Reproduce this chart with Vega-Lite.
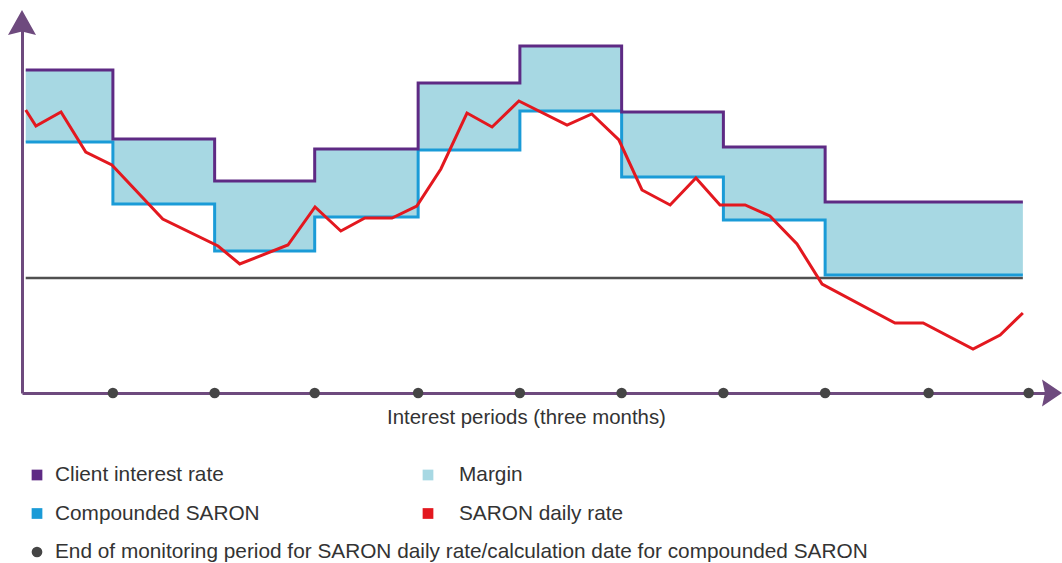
{
  "$schema": "https://vega.github.io/schema/vega-lite/v6.json",
  "padding": {"left": 8, "top": 9, "right": 0, "bottom": 0},
  "background": "white",
  "bounds": "flush",
  "spacing": 82,
  "resolve": {"scale": {"shape": "independent", "color": "independent"}},
  "datasets": {
    "steps": [
      {"month": 0.43, "client": 2.08, "compounded": 1.36},
      {"month": 3, "client": 1.39, "compounded": 0.74},
      {"month": 6, "client": 0.97, "compounded": 0.27},
      {"month": 8.95, "client": 1.29, "compounded": 0.61},
      {"month": 12, "client": 1.95, "compounded": 1.28},
      {"month": 15, "client": 2.32, "compounded": 1.67},
      {"month": 18, "client": 1.66, "compounded": 1.01},
      {"month": 21, "client": 1.31, "compounded": 0.58},
      {"month": 24, "client": 0.76, "compounded": 0.03},
      {"month": 29.83, "client": 0.76, "compounded": 0.03}
    ],
    "daily": [
      {"month": 0.43, "rate": 1.68},
      {"month": 0.73, "rate": 1.52},
      {"month": 1.47, "rate": 1.66},
      {"month": 2.2, "rate": 1.26},
      {"month": 2.97, "rate": 1.13},
      {"month": 4.47, "rate": 0.59},
      {"month": 6.1, "rate": 0.32},
      {"month": 6.74, "rate": 0.14},
      {"month": 8.16, "rate": 0.33},
      {"month": 8.96, "rate": 0.71},
      {"month": 9.72, "rate": 0.47},
      {"month": 10.43, "rate": 0.6},
      {"month": 11.23, "rate": 0.6},
      {"month": 11.96, "rate": 0.72},
      {"month": 12.67, "rate": 1.09},
      {"month": 13.44, "rate": 1.65},
      {"month": 14.18, "rate": 1.51},
      {"month": 14.97, "rate": 1.77},
      {"month": 16.39, "rate": 1.53},
      {"month": 17.12, "rate": 1.64},
      {"month": 17.92, "rate": 1.38},
      {"month": 18.6, "rate": 0.88},
      {"month": 19.43, "rate": 0.73},
      {"month": 20.19, "rate": 1.0},
      {"month": 20.9, "rate": 0.73},
      {"month": 21.64, "rate": 0.73},
      {"month": 22.37, "rate": 0.62},
      {"month": 23.17, "rate": 0.34},
      {"month": 23.91, "rate": -0.06},
      {"month": 26.06, "rate": -0.45},
      {"month": 26.89, "rate": -0.45},
      {"month": 28.36, "rate": -0.71},
      {"month": 29.16, "rate": -0.57},
      {"month": 29.83, "rate": -0.35}
    ],
    "periods": [
      {"month": 3, "rate": -1.15},
      {"month": 6, "rate": -1.15},
      {"month": 8.95, "rate": -1.15},
      {"month": 12, "rate": -1.15},
      {"month": 15, "rate": -1.15},
      {"month": 18, "rate": -1.15},
      {"month": 21, "rate": -1.15},
      {"month": 24, "rate": -1.15},
      {"month": 27.05, "rate": -1.15},
      {"month": 30, "rate": -1.15}
    ],
    "zero": [{"month": 0.43, "month_end": 29.83, "rate": 0}],
    "arrows": [
      {"month": 0.32, "rate": 2.57, "dir": "up"},
      {"month": 30.63, "rate": -1.15, "dir": "right"}
    ],
    "legend": [
      {"label": "Client interest rate", "col": 0, "row": 0},
      {"label": "Margin", "col": 1, "row": 0},
      {"label": "Compounded SARON", "col": 0, "row": 1},
      {"label": "SARON daily rate", "col": 1, "row": 1},
      {"label": "End of monitoring period for SARON daily rate/calculation date for compounded SARON", "col": 0, "row": 2}
    ]
  },
  "vconcat": [
    {
      "width": 1028,
      "height": 372,
      "encoding": {
        "x": {
          "field": "month",
          "type": "quantitative",
          "scale": {"domain": [0.32, 30.63], "nice": false, "zero": false},
          "axis": {
            "title": "Interest periods (three months)",
            "titleFontSize": 20.4,
            "titleFontWeight": "normal",
            "titleColor": "#333333",
            "titlePadding": 14,
            "titleX": 504
          }
        }
      },
      "layer": [
        {
          "data": {"name": "steps"},
          "mark": {"type": "area", "interpolate": "step-after", "color": "#a7d8e3", "opacity": 1},
          "encoding": {
            "y": {"field": "compounded", "type": "quantitative", "title": null, "scale": {"domain": [-1.15, 2.57], "nice": false, "zero": false}},
            "y2": {"field": "client"}
          }
        },
        {
          "data": {"name": "zero"},
          "mark": {"type": "rule", "color": "#505050", "strokeWidth": 2.5},
          "encoding": {
            "x2": {"field": "month_end"},
            "y": {"field": "rate", "type": "quantitative", "title": null, "scale": {"domain": [-1.15, 2.57], "nice": false, "zero": false}}
          }
        },
        {
          "data": {"name": "steps"},
          "mark": {"type": "line", "interpolate": "step-after", "color": "#1a9bd7", "strokeWidth": 3},
          "encoding": {
            "y": {"field": "compounded", "type": "quantitative", "title": null, "scale": {"domain": [-1.15, 2.57], "nice": false, "zero": false}}
          }
        },
        {
          "data": {"name": "steps"},
          "mark": {"type": "line", "interpolate": "step-after", "color": "#5e2a84", "strokeWidth": 3},
          "encoding": {
            "y": {"field": "client", "type": "quantitative", "title": null, "scale": {"domain": [-1.15, 2.57], "nice": false, "zero": false}}
          }
        },
        {
          "data": {"name": "daily"},
          "mark": {"type": "line", "color": "#e3181f", "strokeWidth": 3},
          "encoding": {
            "y": {"field": "rate", "type": "quantitative", "title": null, "scale": {"domain": [-1.15, 2.57], "nice": false, "zero": false}}
          }
        },
        {
          "data": {"name": "periods"},
          "mark": {"type": "point", "filled": true, "color": "#454545", "opacity": 1, "size": 110},
          "encoding": {
            "y": {"field": "rate", "type": "quantitative", "title": null, "scale": {"domain": [-1.15, 2.57], "nice": false, "zero": false}}
          }
        },
        {
          "data": {"name": "arrows"},
          "mark": {"type": "point", "filled": true, "color": "#6e4a7e", "opacity": 1, "size": 784},
          "encoding": {
            "y": {"field": "rate", "type": "quantitative", "title": null, "scale": {"domain": [-1.15, 2.57], "nice": false, "zero": false}},
            "shape": {
              "field": "dir",
              "type": "nominal",
              "legend": null,
              "scale": {
                "domain": ["up", "right"],
                "range": ["M0,-0.79 L1,1 L0,0.75 L-1,1 Z", "M0.86,0 L-0.57,-0.96 L-0.36,0 L-0.57,0.96 Z"]
              }
            }
          }
        }
      ]
    },
    {
      "width": 1028,
      "height": 77,
      "data": {"name": "legend"},
      "layer": [
        {
          "mark": {"type": "point", "filled": true, "opacity": 1, "size": 115},
          "encoding": {
            "x": {"field": "col", "type": "ordinal", "axis": null, "scale": {"type": "point", "range": [15, 406], "padding": 0}},
            "y": {"field": "row", "type": "ordinal", "axis": null, "scale": {"type": "point", "range": [0, 77], "padding": 0}},
            "color": {
              "field": "label",
              "type": "nominal",
              "legend": null,
              "scale": {
                "domain": ["Client interest rate", "Margin", "Compounded SARON", "SARON daily rate", "End of monitoring period for SARON daily rate/calculation date for compounded SARON"],
                "range": ["#5e2a84", "#a7d8e3", "#1a9bd7", "#e3181f", "#454545"]
              }
            },
            "shape": {
              "field": "label",
              "type": "nominal",
              "legend": null,
              "scale": {
                "domain": ["Client interest rate", "Margin", "Compounded SARON", "SARON daily rate", "End of monitoring period for SARON daily rate/calculation date for compounded SARON"],
                "range": ["square", "square", "square", "square", "circle"]
              }
            }
          }
        },
        {
          "mark": {"type": "text", "align": "left", "baseline": "middle", "fontSize": 20.8, "color": "#333333"},
          "encoding": {
            "x": {"field": "col", "type": "ordinal", "axis": null, "scale": {"type": "point", "range": [33, 437], "padding": 0}},
            "y": {"field": "row", "type": "ordinal", "axis": null, "scale": {"type": "point", "range": [0, 77], "padding": 0}},
            "text": {"field": "label"}
          }
        }
      ],
      "resolve": {"scale": {"x": "independent"}}
    }
  ],
  "config": {
    "view": {"stroke": null},
    "font": "Liberation Sans",
    "axis": {"labels": false, "ticks": false, "grid": false, "domainColor": "#6e4a7e", "domainWidth": 3}
  }
}
